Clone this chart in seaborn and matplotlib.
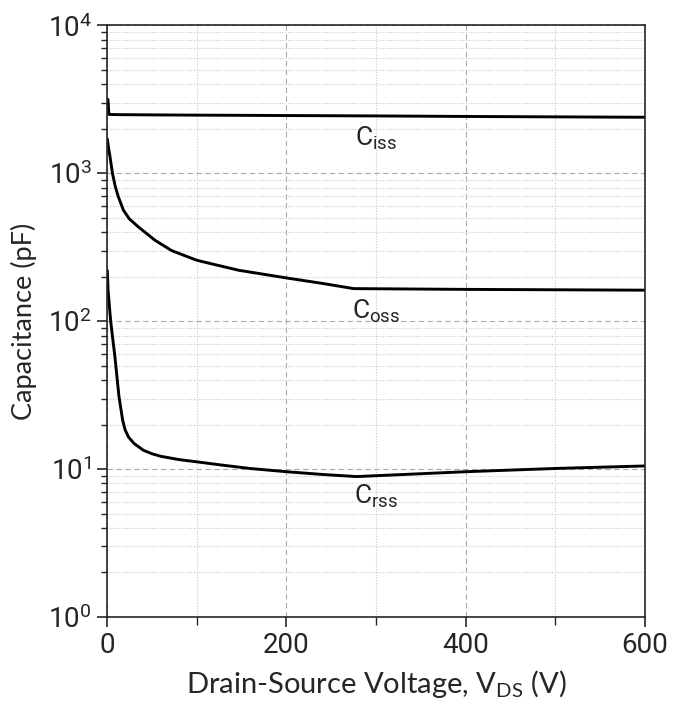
import seaborn as sns
import pandas as pd
import numpy as np
import matplotlib.pyplot as plt
from matplotlib.ticker import FixedLocator, LogLocator, NullFormatter, FuncFormatter

# values
ciss_v = [0.3, 1.0, 2.0, 10, 50, 100, 200, 300, 400, 500, 600]
ciss_c = [3150, 3150, 2500, 2490, 2480, 2470, 2455, 2440, 2420, 2405, 2390]

coss_v = [0.3, 1.5, 3.3, 6, 9, 12.6, 18.2, 25, 35, 53.5, 72, 100,
          146.5, 200, 240, 275, 400, 500, 600]
coss_c = [1700, 1500, 1290, 1000, 820, 692, 563, 490, 433, 352, 300, 258,
          221, 196, 180, 166, 164, 163, 162]

crss_v = [0.3, 1.1, 4, 8.8, 13.3, 17.4, 20, 23.8, 30, 40.5, 50, 60, 80, 100, 125,
          159, 200, 240, 278, 400, 500, 600]
crss_c = [220, 162, 100, 57, 30.8, 21.4, 18.5, 16.5, 14.9, 13.4, 12.7, 12.2, 11.6, 11.2, 10.7,
          10.1, 9.6, 9.2, 8.9, 9.6, 10.1, 10.5]

curve_names = ["iss", "oss", "rss"]
label_pos = [(300, 1720), (300, 117), (300, 6.5)]

df = pd.concat([
    pd.DataFrame({"V": ciss_v, "C": ciss_c, "curve": "iss"}),
    pd.DataFrame({"V": coss_v, "C": coss_c, "curve": "oss"}),
    pd.DataFrame({"V": crss_v, "C": crss_c, "curve": "rss"}),
])

sns.set_style("ticks")
plt.rcParams['font.family'] = ['Lato', 'DejaVu Sans']
narrow = ['Roboto', 'DejaVu Sans']

fig = plt.figure(figsize=(6.82, 7.03), dpi=100)
ax = fig.add_axes([0.157, 0.1223, 0.789, 0.8417])

sns.lineplot(data=df, x="V", y="C", units="curve", estimator=None,
             color="black", linewidth=2.1, ax=ax, sort=False)

ax.set_yscale("log")
ax.set_xlim(0, 600)
ax.set_ylim(1, 1e4)

ax.xaxis.set_major_locator(FixedLocator([0, 200, 400, 600]))
ax.xaxis.set_minor_locator(FixedLocator([100, 300, 500]))
ax.yaxis.set_major_locator(LogLocator(base=10, numticks=10))
ax.yaxis.set_minor_locator(LogLocator(base=10, subs=np.arange(2, 10), numticks=10))
ax.yaxis.set_minor_formatter(NullFormatter())
ax.yaxis.set_major_formatter(FuncFormatter(lambda v, p: r"$\mathregular{10^{%d}}$" % round(np.log10(v))))

ax.grid(which="major", color="#aaaaaa", linestyle=(0, (5, 3)), linewidth=0.8)
ax.grid(which="minor", color="#c8c8c8", linestyle=(0, (1, 1.5)), linewidth=0.8)

ax.tick_params(which="major", direction="out", length=7, width=1.2, labelsize=20, pad=4)
ax.tick_params(which="minor", direction="out", length=4, width=1.0)
ax.tick_params(axis="x", which="minor", length=6)
for lab in ax.get_xticklabels() + ax.get_yticklabels():
    lab.set_family(narrow)

for sp in ax.spines.values():
    sp.set_linewidth(1.2)

ax.set_xlabel(r"Drain-Source Voltage, V$\mathregular{_{DS}}$ (V)", fontsize=21, labelpad=6)
ax.set_ylabel("Capacitance (pF)", fontsize=19.5, labelpad=8)

for name, (x, y) in zip(curve_names, label_pos):
    ax.text(x, y, r"C$\mathregular{_{%s}}$" % name, family=narrow, fontsize=19,
            ha="center", va="center")

fig.savefig("out.png", dpi=100)
